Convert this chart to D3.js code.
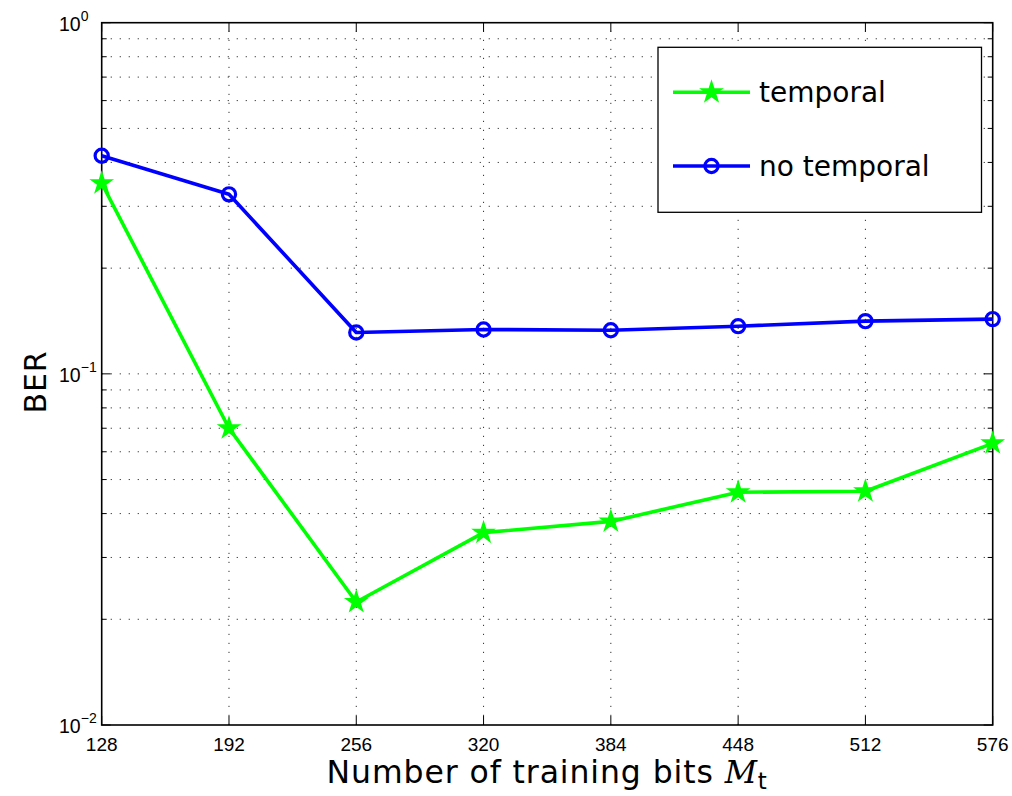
<!DOCTYPE html>
<html>
<head>
<meta charset="utf-8">
<script src="https://cdn.jsdelivr.net/npm/d3@7"></script>
<style>
  html, body { margin: 0; padding: 0; background: #fff; }
  svg { display: block; }
</style>
</head>
<body>
<svg id="chart" width="1012" height="796"></svg>
<script>
// Training bit counts (x) and bit error rates for both receivers
const trainingBits = [128, 192, 256, 320, 384, 448, 512, 576];
const berTemporal   = [0.349, 0.070, 0.0224, 0.0353, 0.0380, 0.0460, 0.0463, 0.0634];
const berNoTemporal = [0.418, 0.3245, 0.1312, 0.1338, 0.1331, 0.1367, 0.1413, 0.1432];
const seriesNames = ["temporal", "no temporal"];
const yDecades = [1e-2, 1e-1, 1e0];
const yDecadeExponents = ["\u22122", "\u22121", "0"];

const svg = d3.select("#chart");
const L = 101.7, R = 992.7, T = 22.7, B = 725;
const labelFont = "'DejaVu Sans', 'Open Sans', sans-serif";
const tickFont = "'Liberation Sans', Arial, sans-serif";

const x = d3.scaleLinear().domain([128, 576]).range([L, R]);
const y = d3.scaleLog().domain([1e-2, 1]).range([B, T]);

// minor log values 2..9 in each decade
const minorVals = [];
[1e-2, 1e-1].forEach(d => { for (let k = 2; k <= 9; k++) minorVals.push(d * k); });

// dotted grid
const grid = svg.append("g").attr("stroke", "#333").attr("stroke-width", 1)
  .attr("stroke-dasharray", "1.2,7.8").attr("fill", "none");
trainingBits.slice(1, -1).forEach(v => {
  grid.append("line").attr("x1", x(v)).attr("x2", x(v)).attr("y1", B).attr("y2", T);
});
minorVals.concat([1e-1]).forEach(v => {
  grid.append("line").attr("x1", L).attr("x2", R).attr("y1", y(v)).attr("y2", y(v));
});

// ticks (inside, on all four sides)
const ticks = svg.append("g").attr("stroke", "#000").attr("stroke-width", 1);
trainingBits.forEach(v => {
  ticks.append("line").attr("x1", x(v)).attr("x2", x(v)).attr("y1", B).attr("y2", B - 9);
  ticks.append("line").attr("x1", x(v)).attr("x2", x(v)).attr("y1", T).attr("y2", T + 9);
});
yDecades.forEach(v => {
  ticks.append("line").attr("x1", L).attr("x2", L + 9).attr("y1", y(v)).attr("y2", y(v));
  ticks.append("line").attr("x1", R).attr("x2", R - 9).attr("y1", y(v)).attr("y2", y(v));
});
minorVals.forEach(v => {
  ticks.append("line").attr("x1", L).attr("x2", L + 5).attr("y1", y(v)).attr("y2", y(v));
  ticks.append("line").attr("x1", R).attr("x2", R - 5).attr("y1", y(v)).attr("y2", y(v));
});

// frame
svg.append("rect").attr("x", L).attr("y", T).attr("width", R - L).attr("height", B - T)
  .attr("fill", "none").attr("stroke", "#000").attr("stroke-width", 1.6);

// x tick labels
svg.append("g").selectAll("text").data(trainingBits).join("text")
  .attr("x", d => x(d)).attr("y", 751)
  .attr("text-anchor", "middle")
  .attr("font-family", tickFont).attr("font-size", 19)
  .text(d => d);

// y tick labels 10^k
yDecades.forEach((v, i) => {
  const t = svg.append("text")
    .attr("x", 59).attr("y", y(v) + 8)
    .attr("text-anchor", "start")
    .attr("font-family", tickFont).attr("font-size", 19.5);
  t.append("tspan").text("10");
  t.append("tspan").attr("dy", -10).attr("font-size", 14).text(yDecadeExponents[i]);
});

// axis titles
svg.append("text")
  .attr("transform", `translate(46,382) rotate(-90)`)
  .attr("text-anchor", "middle")
  .attr("font-family", labelFont).attr("font-size", 30).attr("letter-spacing", 0.8)
  .text("BER");

const xl = svg.append("text")
  .attr("x", (L + R) / 2).attr("y", 783)
  .attr("text-anchor", "middle")
  .attr("font-family", labelFont).attr("font-size", 31.5).attr("letter-spacing", 0.9);
xl.append("tspan").text("Number of training bits ");
xl.append("tspan").attr("font-family", "'DejaVu Serif', 'Liberation Serif', serif")
  .attr("font-style", "italic").text("M");
xl.append("tspan").attr("dy", 6).attr("font-size", 23).text("t");

// pentagram marker
function starPath(r) {
  const ri = r * 0.382;
  const pts = [];
  for (let k = 0; k < 10; k++) {
    const a = -Math.PI / 2 + k * Math.PI / 5;
    const rr = k % 2 === 0 ? r : ri;
    pts.push([rr * Math.cos(a), rr * Math.sin(a)]);
  }
  return "M" + pts.map(p => p.join(",")).join("L") + "Z";
}

const line = d3.line().x(d => x(d[0])).y(d => y(d[1]));

const temporalPts = trainingBits.map((b, i) => [b, berTemporal[i]]);
const noTempPts = trainingBits.map((b, i) => [b, berNoTemporal[i]]);

const plot = svg.append("g");
plot.append("path").datum(temporalPts).attr("d", line)
  .attr("fill", "none").attr("stroke", "#00ff00").attr("stroke-width", 3.6)
  .attr("stroke-linejoin", "round");
plot.selectAll(".star").data(temporalPts).join("path")
  .attr("transform", d => `translate(${x(d[0])},${y(d[1])})`)
  .attr("d", starPath(13)).attr("fill", "#00ff00");

plot.append("path").datum(noTempPts).attr("d", line)
  .attr("fill", "none").attr("stroke", "#0000ff").attr("stroke-width", 3.6)
  .attr("stroke-linejoin", "round");
plot.selectAll(".circ").data(noTempPts).join("circle")
  .attr("cx", d => x(d[0])).attr("cy", d => y(d[1])).attr("r", 6.6)
  .attr("fill", "none").attr("stroke", "#0000ff").attr("stroke-width", 3.2);

// legend
const lg = svg.append("g");
lg.append("rect").attr("x", 658).attr("y", 47.3).attr("width", 323.5).attr("height", 165)
  .attr("fill", "#fff").attr("stroke", "#000").attr("stroke-width", 1.3);
const legendRows = [
  { name: seriesNames[0], color: "#00ff00", yy: 92.3, mark: "star" },
  { name: seriesNames[1], color: "#0000ff", yy: 166, mark: "circle" }
];
legendRows.forEach(r => {
  lg.append("line").attr("x1", 673).attr("x2", 750).attr("y1", r.yy).attr("y2", r.yy)
    .attr("stroke", r.color).attr("stroke-width", 3.6);
  if (r.mark === "star") {
    lg.append("path").attr("transform", `translate(711.5,${r.yy})`)
      .attr("d", starPath(13)).attr("fill", r.color);
  } else {
    lg.append("circle").attr("cx", 711.5).attr("cy", r.yy).attr("r", 6.6)
      .attr("fill", "none").attr("stroke", r.color).attr("stroke-width", 3.2);
  }
  lg.append("text").attr("x", 759).attr("y", r.yy + 10)
    .attr("font-family", labelFont).attr("font-size", 28)
    .text(r.name);
});
</script>
</body>
</html>
